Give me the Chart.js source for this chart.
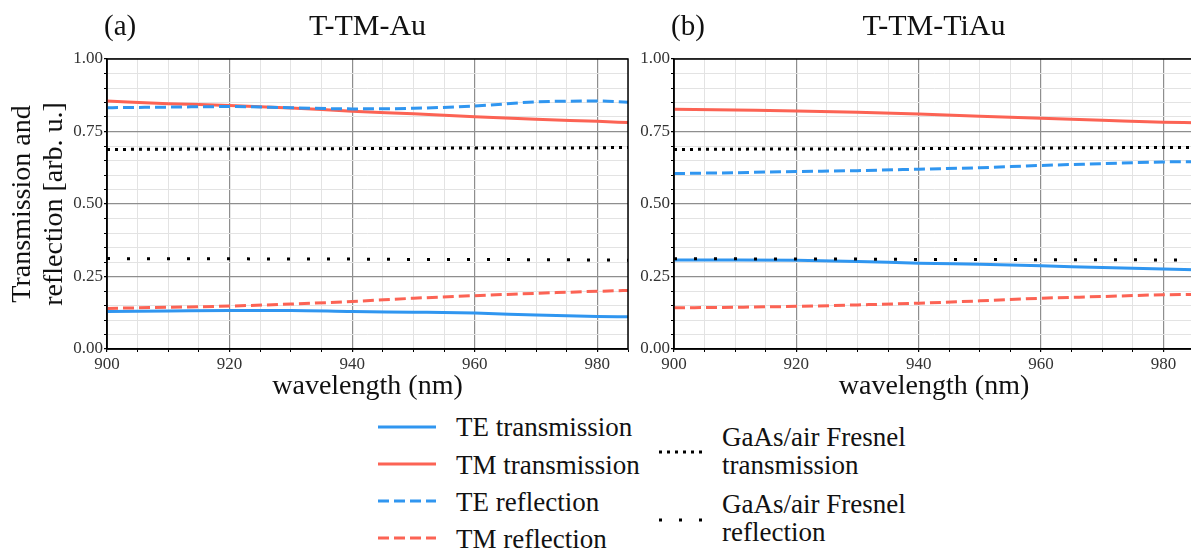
<!DOCTYPE html>
<html>
<head>
<meta charset="utf-8">
<script src="https://cdn.jsdelivr.net/npm/chart.js@4.4.1/dist/chart.umd.min.js"></script>
<style>
  html, body { margin: 0; padding: 0; background: #fff; overflow: hidden; width: 1191px; height: 557px; }
  #boxA { position: absolute; left: 0; top: 0; }
  #boxB { position: absolute; left: 590px; top: 0; }
  .leg { position: absolute; font-family: "Liberation Serif", serif; font-size: 27px; color: #111; white-space: nowrap; line-height: 30px; }
  .sample { position: absolute; }
</style>
</head>
<body>
<div id="boxA"><canvas id="chartA" width="640" height="405"></canvas></div>
<div id="boxB"><canvas id="chartB" width="620" height="405"></canvas></div>
<div id="legend"></div>

<script>
// wavelength samples (nm)
const wavelength = [900, 910, 920, 930, 940, 950, 960, 970, 980, 985];

// (a) T-TM-Au
const teTransA = [0.129, 0.131, 0.133, 0.133, 0.129, 0.127, 0.124, 0.117, 0.112, 0.111];
const tmTransA = [0.855, 0.846, 0.840, 0.831, 0.820, 0.811, 0.801, 0.792, 0.785, 0.781];
const teReflA = [0.832, 0.834, 0.836, 0.832, 0.828, 0.830, 0.838, 0.852, 0.855, 0.851];
const tmReflA = [0.140, 0.144, 0.148, 0.155, 0.164, 0.175, 0.184, 0.192, 0.199, 0.202];
const fresTransA = [0.688, 0.689, 0.690, 0.690, 0.691, 0.692, 0.693, 0.693, 0.694, 0.695];
const fresReflA = [0.312, 0.311, 0.311, 0.310, 0.310, 0.309, 0.309, 0.308, 0.307, 0.306];

// (b) T-TM-TiAu
const teTransB = [0.307, 0.307, 0.306, 0.302, 0.296, 0.292, 0.287, 0.281, 0.276, 0.273];
const tmTransB = [0.827, 0.824, 0.821, 0.816, 0.810, 0.803, 0.796, 0.789, 0.782, 0.780];
const teReflB = [0.605, 0.608, 0.612, 0.615, 0.620, 0.625, 0.633, 0.639, 0.645, 0.646];
const tmReflB = [0.142, 0.144, 0.147, 0.152, 0.158, 0.166, 0.175, 0.181, 0.187, 0.188];
const fresTransB = [0.688, 0.689, 0.690, 0.690, 0.691, 0.692, 0.693, 0.694, 0.695, 0.695];
const fresReflB = [0.311, 0.311, 0.310, 0.310, 0.309, 0.309, 0.308, 0.308, 0.307, 0.307];

const xMajorTicks = [900, 920, 940, 960, 980];
const yMajorTicks = [0, 0.25, 0.5, 0.75, 1];

const seriesNames = ['TE transmission', 'TM transmission', 'TE reflection', 'TM reflection',
  'GaAs/air Fresnel transmission', 'GaAs/air Fresnel reflection'];

const BLUE = '#3096f0';
const RED = '#fc6354';
const FONT = '"Liberation Serif", serif';

const lineStyles = [
  { color: BLUE, dash: [] },
  { color: RED, dash: [] },
  { color: BLUE, dash: [11, 5] },
  { color: RED, dash: [11, 5] },
  { color: '#000', dash: [3, 5] },
  { color: '#000', dash: [3, 17] }
];

const isMajorX = v => xMajorTicks.includes(v);
const isMajorY = v => yMajorTicks.some(m => Math.abs(m - v) < 1e-6);

// box around the plot + panel letter and title
const panelFrame = {
  id: 'panelFrame',
  afterDraw(chart, args, opts) {
    const { ctx, chartArea: a } = chart;
    ctx.save();
    ctx.strokeStyle = '#000';
    ctx.lineWidth = 1.5;
    ctx.strokeRect(a.left, a.top, a.right - a.left, a.bottom - a.top);
    ctx.fillStyle = '#111';
    ctx.textBaseline = 'alphabetic';
    ctx.font = '29px ' + FONT;
    ctx.textAlign = 'left';
    ctx.fillText(opts.letter, a.left - 3, 35);
    ctx.font = '30px ' + FONT;
    ctx.textAlign = 'center';
    ctx.fillText(opts.title, (a.left + a.right) / 2, 35);
    ctx.restore();
  }
};

function makeChart(id, values, opts) {
  const datasets = values.map((vals, i) => ({
    label: seriesNames[i],
    data: wavelength.map((w, j) => ({ x: w, y: vals[j] })),
    borderColor: lineStyles[i].color,
    borderDash: lineStyles[i].dash,
    borderWidth: 3,
    borderCapStyle: 'butt',
    pointRadius: 0,
    cubicInterpolationMode: 'monotone',
    order: 10 - i
  }));

  return new Chart(document.getElementById(id), {
    type: 'line',
    data: { datasets },
    plugins: [panelFrame],
    options: {
      responsive: false,
      animation: false,
      devicePixelRatio: 1,
      layout: { padding: { left: 0, top: 59, right: opts.padRight, bottom: 0 } },
      plugins: {
        legend: { display: false },
        tooltip: { enabled: false },
        panelFrame: { letter: opts.letter, title: opts.title }
      },
      scales: {
        x: {
          type: 'linear',
          min: 900,
          max: 985,
          afterFit: s => { s.height = 405 - 349; },
          border: { color: '#000', width: 1.5 },
          grid: {
            color: c => isMajorX(c.tick.value) ? '#8e8e8e' : '#e3e3e3',
            lineWidth: c => isMajorX(c.tick.value) ? 1.2 : 1,
            tickColor: '#000',
            tickLength: 3
          },
          ticks: {
            stepSize: 5,
            autoSkip: false,
            maxRotation: 0,
            padding: 2,
            color: '#333',
            font: { family: FONT, size: 17 },
            callback: v => isMajorX(v) ? String(v) : ''
          },
          title: {
            display: true,
            text: 'wavelength (nm)',
            color: '#111',
            font: { family: FONT, size: 28 },
            padding: { top: 0, bottom: 2 }
          }
        },
        y: {
          min: 0,
          max: 1,
          afterFit: s => { s.width = opts.yWidth; },
          border: { color: '#000', width: 1.5 },
          grid: {
            color: c => isMajorY(c.tick.value) ? '#8e8e8e' : '#e3e3e3',
            lineWidth: c => isMajorY(c.tick.value) ? 1.2 : 1,
            tickColor: '#000',
            tickLength: 3
          },
          ticks: {
            stepSize: 0.05,
            autoSkip: false,
            padding: 1,
            color: '#333',
            font: { family: FONT, size: 17 },
            callback: v => isMajorY(v) ? v.toFixed(2) : ''
          },
          title: {
            display: opts.yTitle,
            text: ['Transmission and', 'reflection [arb. u.]'],
            color: '#111',
            font: { family: FONT, size: 28, lineHeight: 32 / 28 },
            padding: { top: 7, bottom: 0 }
          }
        }
      }
    }
  });
}

makeChart('chartA', [teTransA, tmTransA, teReflA, tmReflA, fresTransA, fresReflA],
  { letter: '(a)', title: 'T-TM-Au', padRight: 12, yWidth: 107, yTitle: true });
makeChart('chartB', [teTransB, tmTransB, teReflB, tmReflB, fresTransB, fresReflB],
  { letter: '(b)', title: 'T-TM-TiAu', padRight: 16, yWidth: 84, yTitle: false });

// legend, built from the same names and styles
const legendSpots = [
  { sx: 378, sw: 58, sy: 427, tx: 456, lines: ['TE transmission'], ty: 412 },
  { sx: 378, sw: 58, sy: 464, tx: 456, lines: ['TM transmission'], ty: 450 },
  { sx: 378, sw: 58, sy: 501, tx: 456, lines: ['TE reflection'], ty: 487 },
  { sx: 378, sw: 58, sy: 538, tx: 456, lines: ['TM reflection'], ty: 524 },
  { sx: 659, sw: 48, sy: 452, tx: 722, lines: ['GaAs/air Fresnel', 'transmission'], ty: 423 },
  { sx: 659, sw: 48, sy: 520, tx: 722, lines: ['GaAs/air Fresnel', 'reflection'], ty: 490 }
];
const legend = document.getElementById('legend');
legendSpots.forEach((p, i) => {
  const st = lineStyles[i];
  const svg = document.createElementNS('http://www.w3.org/2000/svg', 'svg');
  svg.setAttribute('class', 'sample');
  svg.setAttribute('width', p.sw);
  svg.setAttribute('height', 6);
  svg.style.left = p.sx + 'px';
  svg.style.top = (p.sy - 3) + 'px';
  const ln = document.createElementNS('http://www.w3.org/2000/svg', 'line');
  ln.setAttribute('x1', 0); ln.setAttribute('x2', p.sw);
  ln.setAttribute('y1', 3); ln.setAttribute('y2', 3);
  ln.setAttribute('stroke', st.color);
  ln.setAttribute('stroke-width', 3);
  if (st.dash.length) ln.setAttribute('stroke-dasharray', st.dash.join(' '));
  svg.appendChild(ln);
  legend.appendChild(svg);

  const txt = document.createElement('div');
  txt.className = 'leg';
  txt.style.left = p.tx + 'px';
  txt.style.top = p.ty + 'px';
  if (p.lines.length > 1) txt.style.lineHeight = '28px';
  txt.innerHTML = p.lines.join('<br>');
  legend.appendChild(txt);
});
</script>
</body>
</html>
